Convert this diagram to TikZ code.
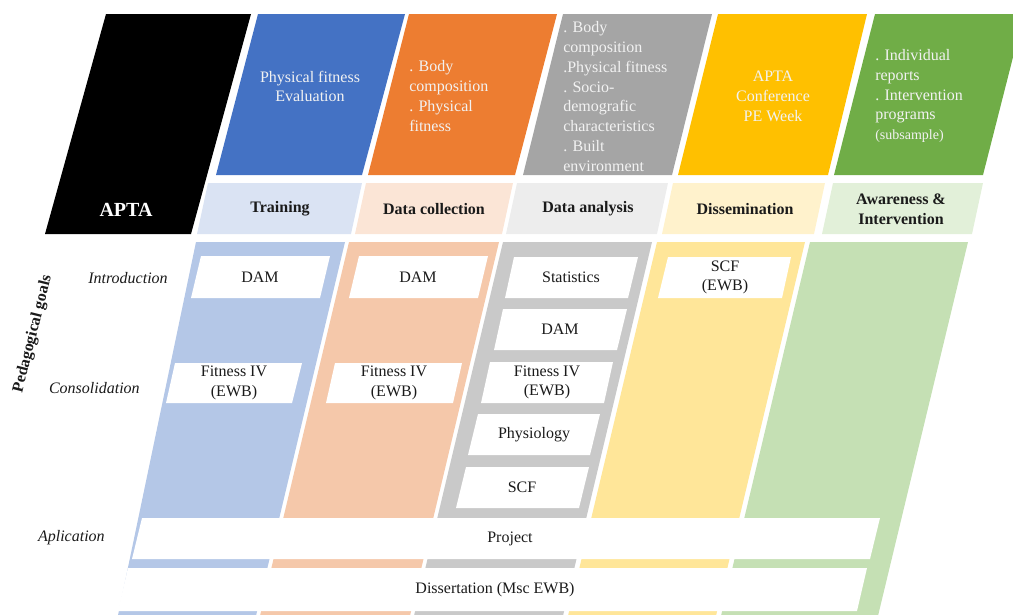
\documentclass[tikz,border=0pt]{standalone}
\usepackage{fontspec}
\setmainfont{Liberation Serif}
\definecolor{cBlue}{HTML}{4472C4}
\definecolor{cOrange}{HTML}{ED7D31}
\definecolor{cGray}{HTML}{A5A5A5}
\definecolor{cGold}{HTML}{FFC000}
\definecolor{cGreen}{HTML}{70AD47}
\definecolor{lBlue}{HTML}{DAE3F3}
\definecolor{lOrange}{HTML}{FBE5D6}
\definecolor{lGray}{HTML}{EDEDED}
\definecolor{lGold}{HTML}{FFF2CC}
\definecolor{lGreen}{HTML}{E2F0D9}
\definecolor{mBlue}{HTML}{B4C7E7}
\definecolor{mOrange}{HTML}{F5C8AA}
\definecolor{mGray}{HTML}{C9C9C9}
\definecolor{mGold}{HTML}{FFE699}
\definecolor{mGreen}{HTML}{C5E0B4}
\definecolor{topText}{HTML}{F2F2F2}
\definecolor{bodyText}{HTML}{1A1A1A}
% #1 x top-left, #2 x top-right, #3 x bottom-left, #4 x bottom-right, #5 y top, #6 y bottom, #7 fill colour
\newcommand\pgram[7]{\fill[#7] (#1,#5) -- (#2,#5) -- (#4,#6) -- (#3,#6) -- cycle;}
\begin{document}
\begin{tikzpicture}[x=0.75pt,y=-0.75pt,
  toptxt/.style={text=topText,font=\fontsize{12}{14.8}\selectfont,inner sep=0pt},
  headtxt/.style={text=bodyText,font=\fontsize{12}{14.8}\selectfont\bfseries,inner sep=0pt,align=center},
  boxtxt/.style={text=bodyText,font=\fontsize{12}{14.8}\selectfont,inner sep=0pt,align=center},
  goaltxt/.style={text=bodyText,font=\fontsize{12}{14.8}\selectfont\itshape,inner sep=0pt,anchor=east}]
\useasboundingbox (0,0) rectangle (1013,614);
\clip (0,0) rectangle (1013,614);

% ---- top row
\pgram{106}{251}{45}{191}{14}{234}{black}
\pgram{258}{405}{216}{362}{14}{175}{cBlue}
\pgram{409}{557}{368}{515}{14}{175}{cOrange}
\pgram{563}{712}{523}{672}{14}{175}{cGray}
\pgram{718}{867}{678}{828}{14}{175}{cGold}
\pgram{875}{1024}{834}{983}{14}{175}{cGreen}

% ---- label row
\pgram{208}{362}{197}{351}{183}{234}{lBlue}
\pgram{366}{513}{355}{502}{183}{234}{lOrange}
\pgram{517}{668}{506}{657}{183}{234}{lGray}
\pgram{673}{825}{662}{814}{183}{234}{lGold}
\pgram{833}{983}{822}{972}{183}{234}{lGreen}

% ---- lower columns
\pgram{196}{345}{117}{255}{242}{620}{mBlue}
\pgram{349}{499}{259}{409}{242}{620}{mOrange}
\pgram{503}{652}{413}{562}{242}{620}{mGray}
\pgram{657}{805}{567}{715}{242}{620}{mGold}
\pgram{810}{968}{720}{877}{242}{620}{mGreen}

% ---- white boxes
\pgram{201}{330}{191}{320}{256}{298}{white}
\pgram{175}{302}{166}{292}{363}{403}{white}
\pgram{359}{488}{349}{478}{256}{298}{white}
\pgram{335}{462}{326}{453}{363}{403}{white}
\pgram{514}{638}{505}{628}{257}{298}{white}
\pgram{503}{627}{494}{617}{309}{350}{white}
\pgram{490}{613}{481}{604}{362}{403}{white}
\pgram{478}{600}{468}{590}{414}{455}{white}
\pgram{466}{589}{456}{579}{467}{508}{white}
\pgram{668}{791}{658}{782}{257}{298}{white}
\pgram{142}{880}{132}{870}{518}{559}{white}
\pgram{128}{867}{118}{857}{568}{611}{white}

% ---- top texts
\node[text=white,font=\fontsize{15}{18}\selectfont\bfseries,inner sep=0pt] (apta) at (126,210) {APTA};
\node[toptxt,align=center] (tBlue) at (310,86.5) {Physical fitness\\Evaluation};
\node[toptxt,align=left,anchor=west] (tOrange) at (409,96) {. Body\\composition\\. Physical\\fitness};
\node[toptxt,align=left,anchor=west] (tGray) at (563,96.5) {. Body\\composition\\.Physical fitness\\. Socio-\\demografic\\characteristics\\. Built\\environment};
\node[toptxt,align=center] (tGold) at (773,96.5) {APTA\\Conference\\PE Week};
\node[toptxt,align=left,anchor=west] (tGreen) at (875,96) {. Individual\\reports\\. Intervention\\programs\\{\fontsize{10.5}{13}\selectfont(subsample)}};

% ---- header texts
\node[headtxt] (hTrain) at (280,209) {Training};
\node[headtxt] (hColl) at (434,209) {Data collection};
\node[headtxt] (hAna) at (588,209) {Data analysis};
\node[headtxt] (hDiss) at (745,209) {Dissemination};
\node[headtxt] (hAware) at (901,209.5) {Awareness \&\\Intervention};

% ---- goals
\node[text=bodyText,font=\fontsize{12}{14.8}\selectfont\bfseries,inner sep=0pt,rotate=76] (goals) at (33,334) {Pedagogical goals};
\node[goaltxt] (gIntro) at (168,278) {Introduction};
\node[goaltxt] (gCons) at (140,388) {Consolidation};
\node[goaltxt] (gApp) at (105,538) {Aplication};

% ---- box texts
\node[boxtxt] (bDam1) at (260,277) {DAM};
\node[boxtxt] (bFit1) at (234,383) {Fitness IV\\(EWB)};
\node[boxtxt] (bDam2) at (418,277) {DAM};
\node[boxtxt] (bFit2) at (394,383) {Fitness IV\\(EWB)};
\node[boxtxt] (bStat) at (571,277.5) {Statistics};
\node[boxtxt] (bDam3) at (560,329.5) {DAM};
\node[boxtxt] (bFit3) at (547,382.5) {Fitness IV\\(EWB)};
\node[boxtxt] (bPhys) at (534,434.5) {Physiology};
\node[boxtxt] (bScf) at (522,487.5) {SCF};
\node[boxtxt] (bScf2) at (725,277.5) {SCF\\(EWB)};
\node[boxtxt] (bProj) at (510,539) {Project};
\node[boxtxt] (bDiss) at (495,590) {Dissertation (Msc EWB)};
\end{tikzpicture}
\end{document}
